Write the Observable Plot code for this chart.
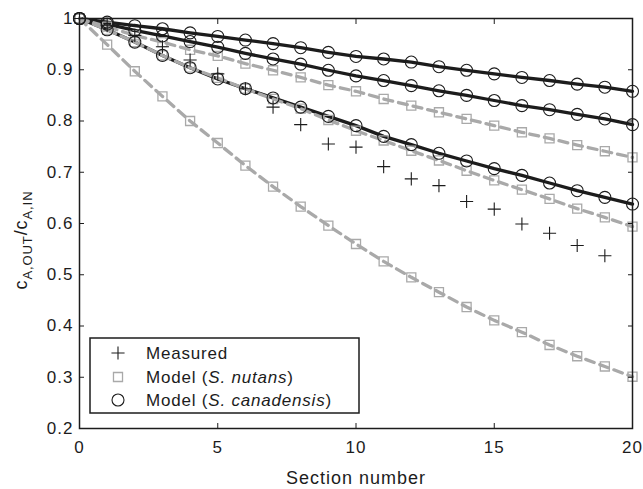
<!DOCTYPE html>
<html>
<head>
<meta charset="utf-8">
<style>
  html, body { margin: 0; padding: 0; background: #fff; }
  #chart svg { display: block; }
</style>
<script src="https://cdn.jsdelivr.net/npm/d3@7"></script>
<script src="https://cdn.jsdelivr.net/npm/@observablehq/plot@0.6"></script>
</head>
<body>
<div id="chart"></div>
<script>
// ---- data ----
const sections = [0,1,2,3,4,5,6,7,8,9,10,11,12,13,14,15,16,17,18,19,20];
const measuredSections = [0,1,2,3,4,5,6,7,8,9,10,11,12,13,14,15,16,17,18,19];
const measured = [1.000,0.986,0.967,0.945,0.919,0.892,0.863,0.827,0.793,0.755,0.749,0.711,0.687,0.674,0.643,0.628,0.599,0.581,0.557,0.537];

const canadensisTop = [1.000,0.993,0.986,0.980,0.972,0.965,0.958,0.951,0.943,0.934,0.926,0.921,0.915,0.906,0.899,0.892,0.885,0.879,0.872,0.866,0.858];
const canadensisMid = [1.000,0.989,0.977,0.966,0.955,0.944,0.932,0.921,0.911,0.899,0.888,0.879,0.869,0.859,0.850,0.840,0.830,0.822,0.813,0.804,0.793];
const canadensisBot = [1.000,0.978,0.954,0.928,0.904,0.882,0.863,0.845,0.827,0.809,0.791,0.770,0.754,0.737,0.722,0.707,0.694,0.679,0.664,0.651,0.638];

const nutansTop = [1.000,0.984,0.967,0.954,0.939,0.927,0.912,0.899,0.885,0.870,0.858,0.843,0.830,0.817,0.804,0.791,0.778,0.766,0.753,0.741,0.729];
const nutansMid = [1.000,0.978,0.954,0.928,0.904,0.884,0.863,0.843,0.824,0.802,0.781,0.762,0.742,0.723,0.703,0.684,0.666,0.648,0.629,0.612,0.594];
const nutansBot = [1.000,0.949,0.897,0.848,0.800,0.757,0.713,0.672,0.633,0.596,0.560,0.526,0.495,0.466,0.437,0.411,0.388,0.363,0.341,0.321,0.301];

const xTicks = [0,5,10,15,20];
const yTicks = [0.2,0.3,0.4,0.5,0.6,0.7,0.8,0.9,1.0];
const legendLabels = ["Measured", "Model (S. nutans)", "Model (S. canadensis)"];

// ---- tidy tables ----
function curveRows(name, values) {
  return values.map((v, i) => ({curve: name, section: sections[i], value: v}));
}
const canadensisRows = [
  ...curveRows("canTop", canadensisTop),
  ...curveRows("canMid", canadensisMid),
  ...curveRows("canBot", canadensisBot)
];
const nutansRows = [
  ...curveRows("nutTop", nutansTop),
  ...curveRows("nutMid", nutansMid),
  ...curveRows("nutBot", nutansBot)
];
const measuredRows = measured.map((v, i) => ({section: measuredSections[i], value: v}));

const INK = "#1c1c1c";
const GRAY = "#a9a9a9";
const FONT = "'Liberation Sans', Arial, Helvetica, sans-serif";
const PLUS_R = 4.3;

const plot = Plot.plot({
  width: 643,
  height: 489,
  marginLeft: 79,
  marginRight: 11,
  marginTop: 18,
  marginBottom: 61,
  style: {fontFamily: FONT, fontSize: "17px", color: INK, background: "#fff", overflow: "visible"},
  x: {domain: [0, 20]},
  y: {domain: [0.2, 1]},
  marks: [
    Plot.line(canadensisRows, {x: "section", y: "value", z: "curve", stroke: INK, strokeWidth: 3.3}),
    Plot.line(nutansRows, {x: "section", y: "value", z: "curve", stroke: GRAY, strokeWidth: 3.3, strokeDasharray: "9,6"}),
    Plot.dot(nutansRows, {x: "section", y: "value", symbol: "square", r: 5.1, stroke: GRAY, strokeWidth: 1.3, fill: "none"}),
    Plot.dot(canadensisRows, {x: "section", y: "value", symbol: "circle", r: 6, stroke: INK, strokeWidth: 1.1, fill: "none"}),
    Plot.dot(measuredRows, {x: "section", y: "value", symbol: "plus", r: PLUS_R, stroke: INK, strokeWidth: 1.1}),
    Plot.axisX(xTicks, {anchor: "bottom", tickSize: -5, tickPadding: 17, label: null, fontSize: 17, stroke: INK}),
    Plot.axisX(xTicks, {anchor: "top", tickSize: -5, tickFormat: () => "", label: null, stroke: INK}),
    Plot.axisY(yTicks, {anchor: "left", tickSize: -5, tickPadding: 11, label: null, fontSize: 17, stroke: INK,
      tickFormat: d => (d === 1 ? "1" : d.toFixed(1))}),
    Plot.axisY(yTicks, {anchor: "right", tickSize: -5, tickFormat: () => "", label: null, stroke: INK}),
    Plot.frame({stroke: INK, strokeWidth: 1.5}),
    Plot.text(["Section number"], {frameAnchor: "bottom", dy: 50, lineAnchor: "middle", fontSize: 18, fill: INK})
  ]
});

document.getElementById("chart").appendChild(plot);

const svg = d3.select(plot);
// the reference lettering is slightly wide: add a little tracking
svg.selectAll("text").style("letter-spacing", "1px");

// y-axis label with subscripts
const ylab = svg.append("text")
  .attr("transform", "translate(27,240) rotate(-90)")
  .attr("text-anchor", "middle")
  .attr("fill", INK)
  .style("font-family", FONT)
  .style("font-size", "18px")
  .style("letter-spacing", "0.9px");
ylab.append("tspan").text("c");
ylab.append("tspan").attr("dy", 5).style("font-size", "13px").text("A,OUT");
ylab.append("tspan").attr("dy", -5).text("/c");
ylab.append("tspan").attr("dy", 5).style("font-size", "13px").text("A,IN");

// legend
const lg = svg.append("g").style("font-family", FONT).style("font-size", "17px").attr("text-anchor", "start");
lg.append("rect").attr("x", 90).attr("y", 338).attr("width", 269).attr("height", 75)
  .attr("fill", "#fff").attr("stroke", INK).attr("stroke-width", 1.5);
const rowsY = [353, 377, 400];
lg.append("path").attr("transform", `translate(118,${rowsY[0]})`)
  .attr("d", d3.symbol(d3.symbolPlus, Math.PI * PLUS_R * PLUS_R)())
  .attr("fill", "none").attr("stroke", INK).attr("stroke-width", 1.1);
lg.append("path").attr("transform", `translate(118,${rowsY[1]})`)
  .attr("d", d3.symbol(d3.symbolSquare, Math.PI * 5.1 * 5.1)())
  .attr("fill", "none").attr("stroke", GRAY).attr("stroke-width", 1.3);
lg.append("circle").attr("cx", 118).attr("cy", rowsY[2]).attr("r", 6)
  .attr("fill", "none").attr("stroke", INK).attr("stroke-width", 1.1);

function legendText(y, parts) {
  const t = lg.append("text").attr("x", 146).attr("y", y).attr("dy", "0.35em")
    .attr("fill", INK).attr("text-anchor", "start").style("letter-spacing", "0.8px");
  parts.forEach(([s, it]) => t.append("tspan").style("font-style", it ? "italic" : "normal").text(s));
}
legendText(rowsY[0], [[legendLabels[0], false]]);
legendText(rowsY[1], [["Model (", false], ["S. nutans", true], [")", false]]);
legendText(rowsY[2], [["Model (", false], ["S. canadensis", true], [")", false]]);
</script>
</body>
</html>
